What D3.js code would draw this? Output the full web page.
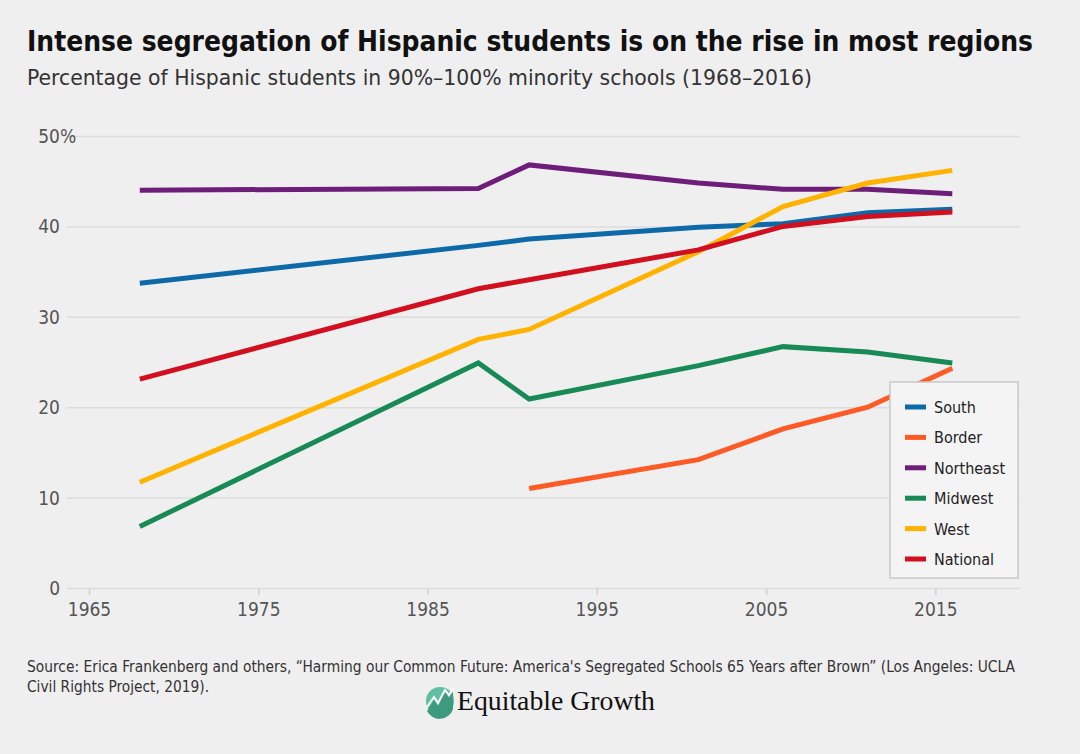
<!DOCTYPE html>
<html><head><meta charset="utf-8">
<script src="https://cdn.jsdelivr.net/npm/d3@7"></script>
<style>
html,body{margin:0;padding:0;background:#efefef;}
svg{display:block;}
</style></head>
<body>
<svg id="chart" width="1080" height="754"></svg>
<script>
const years = [1968, 1988, 1991, 2001, 2006, 2011, 2016];
const seriesNames = ["South", "Border", "Northeast", "Midwest", "West", "National"];
const seriesColors = ["#0b6aa7", "#fd5a25", "#6d1e78", "#178a56", "#ffb300", "#d20f1e"];
const south     = [33.7, 37.9, 38.6, 39.9, 40.3, 41.5, 41.9];
const border    = [null, null, 11.0, 14.2, 17.6, 20.0, 24.3];
const northeast = [44.0, 44.2, 46.8, 44.8, 44.1, 44.1, 43.6];
const midwest   = [6.8, 24.9, 20.9, 24.6, 26.7, 26.1, 24.9];
const west      = [11.7, 27.5, 28.6, 37.2, 42.2, 44.8, 46.2];
const national  = [23.1, 33.1, 34.1, 37.4, 40.0, 41.1, 41.6];
const xTicks = [1965, 1975, 1985, 1995, 2005, 2015];
const yTicks = [0, 10, 20, 30, 40, 50];

const allSeries = [south, border, northeast, midwest, west, national];
const svg = d3.select("#chart");
const condensed = "'Liberation Sans Narrow','DejaVu Sans Condensed','Roboto',sans-serif";

const x = d3.scaleLinear().domain([1963.7, 2020]).range([67, 1020]);
const y = d3.scaleLinear().domain([0, 50]).range([588, 136]);

// Title & subtitle
svg.append("text").attr("x", 27).attr("y", 51)
  .attr("font-family", condensed).attr("font-weight", "bold").attr("font-size", 29)
  .attr("fill", "#111").attr("textLength", 1006).attr("lengthAdjust", "spacingAndGlyphs")
  .text("Intense segregation of Hispanic students is on the rise in most regions");
svg.append("text").attr("x", 27).attr("y", 85)
  .attr("font-family", condensed).attr("font-size", 21)
  .attr("fill", "#333").attr("textLength", 785).attr("lengthAdjust", "spacingAndGlyphs")
  .text("Percentage of Hispanic students in 90%–100% minority schools (1968–2016)");

// grid
const yAxis = d3.axisLeft(y).tickValues(yTicks).tickSize(-(1020 - 67)).tickFormat("");
const gy = svg.append("g").attr("transform", "translate(67,0)").call(yAxis);
gy.select(".domain").remove();
gy.selectAll(".tick line").attr("stroke", "#dcdcdc").attr("stroke-width", 1.5);

// y labels
svg.append("g").selectAll("text").data(yTicks).enter().append("text")
  .attr("x", 60).attr("y", d => y(d) + 7)
  .attr("font-family", condensed).attr("font-size", 19).attr("fill", "#555")
  .attr("text-anchor", "end")
  .text(d => d);
svg.append("text").attr("x", 60).attr("y", y(50) + 7)
  .attr("font-family", condensed).attr("font-size", 19).attr("fill", "#555")
  .text("%");

// x axis
const xAxis = d3.axisBottom(x).tickValues(xTicks).tickSize(6).tickFormat(d3.format("d"));
const gx = svg.append("g").attr("transform", "translate(0,589)").call(xAxis);
gx.select(".domain").remove();
gx.selectAll(".tick line").attr("stroke", "#d0d0d0").attr("stroke-width", 1.5);
gx.selectAll(".tick text").attr("font-family", condensed).attr("font-size", 19)
  .attr("fill", "#555").attr("dy", "0.95em");

// lines
const line = d3.line().defined(d => d[1] != null).x(d => x(d[0])).y(d => y(d[1]));
allSeries.forEach((s, i) => {
  svg.append("path").datum(years.map((yr, j) => [yr, s[j]]))
    .attr("d", line).attr("fill", "none").attr("stroke", seriesColors[i])
    .attr("stroke-width", 5).attr("stroke-linejoin", "miter");
});

// legend
const lg = svg.append("g");
lg.append("rect").attr("x", 890).attr("y", 382).attr("width", 128).attr("height", 196)
  .attr("fill", "#f4f4f4").attr("stroke", "#c8c8c8").attr("stroke-width", 1.5);
seriesNames.forEach((n, i) => {
  const yy = 407 + i * 30.4;
  lg.append("line").attr("x1", 905).attr("x2", 926).attr("y1", yy).attr("y2", yy)
    .attr("stroke", seriesColors[i]).attr("stroke-width", 5);
  lg.append("text").attr("x", 934).attr("y", yy + 6)
    .attr("font-family", condensed).attr("font-size", 16).attr("fill", "#222").text(n);
});

// source
svg.append("text").attr("x", 27).attr("y", 672)
  .attr("font-family", condensed).attr("font-size", 15).attr("fill", "#333")
  .attr("textLength", 988).attr("lengthAdjust", "spacingAndGlyphs")
  .text("Source: Erica Frankenberg and others, “Harming our Common Future: America's Segregated Schools 65 Years after Brown” (Los Angeles: UCLA");
svg.append("text").attr("x", 27).attr("y", 692)
  .attr("font-family", condensed).attr("font-size", 15).attr("fill", "#333")
  .attr("textLength", 182).attr("lengthAdjust", "spacingAndGlyphs")
  .text("Civil Rights Project, 2019).");

// logo
const logo = svg.append("g");
logo.append("circle").attr("cx", 440).attr("cy", 701).attr("r", 14).attr("fill", "#5fbfa0");
logo.append("path").attr("d", "M427,711 L434,700 L438,706 L445,692 L449,698 L453,691 L453,709 A14,14 0 0 1 427,711 Z")
  .attr("fill", "#3d9a7c");
logo.append("polyline").attr("points", "427,707 434,697 438,703 445,690 449,695 454,688")
  .attr("fill", "none").attr("stroke", "#fff").attr("stroke-width", 2);
logo.append("text").attr("x", 457).attr("y", 710)
  .attr("font-family", "'Liberation Serif','DejaVu Serif',serif").attr("font-size", 27)
  .attr("fill", "#111").attr("textLength", 198).attr("lengthAdjust", "spacingAndGlyphs")
  .text("Equitable Growth");
</script>
</body></html>
